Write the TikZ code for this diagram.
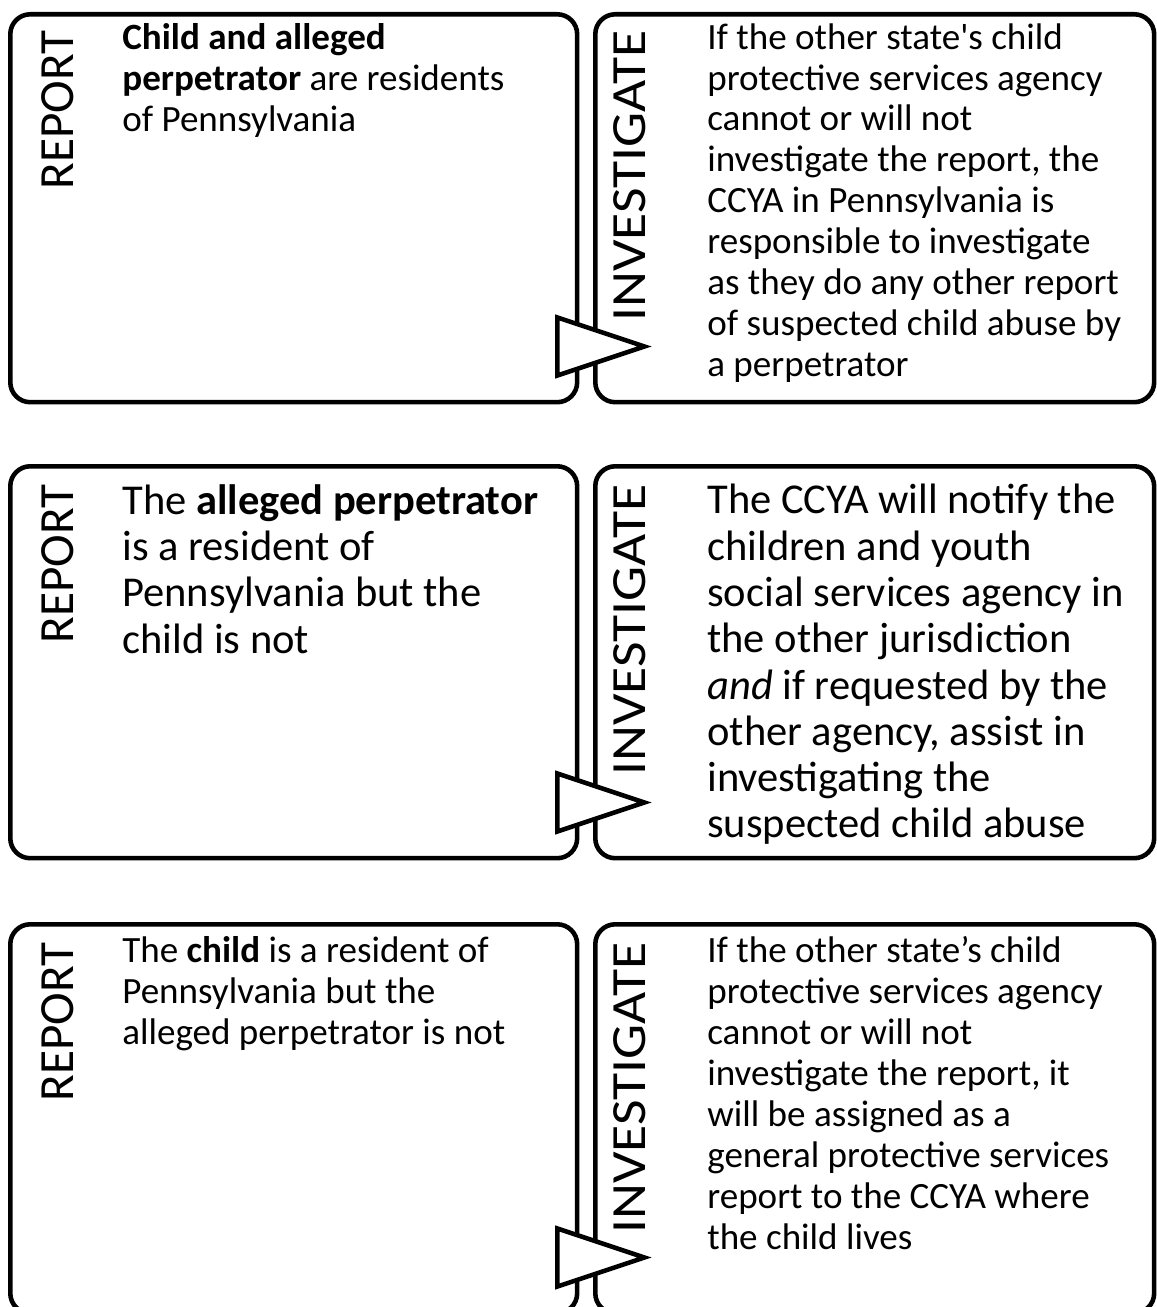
\documentclass[tikz,border=0pt]{standalone}
\usepackage{fontspec}
\setmainfont{Carlito}
\usetikzlibrary{calc}

\tikzset{
  card/.style={draw, line width=2.6pt, rounded corners=0.4cm, inner sep=0pt,
    anchor=north west, minimum width=#1},
  pointer/.style={draw, fill=white, line width=2.6pt, line join=miter},
  tag/.style={rotate=90, anchor=base east, inner sep=0pt,
    font=\fontsize{28pt}{30pt}\selectfont},
  longtag/.style={tag, xscale=1.13},
  body/.style={anchor=north west, inner sep=0pt, align=left,
    font=\fontsize{21.1pt}{23.3pt}\selectfont},
  bigbody/.style={body, font=\fontsize{24.2pt}{26.35pt}\selectfont}
}

\begin{document}
\begin{tikzpicture}[x=0.02cm,y=-0.02cm]
\useasboundingbox (0,0) rectangle (1156,1307);

% first row
\node[card=11.34cm, minimum height=7.76cm] (rep1) at (8,12) {};
\node[card=11.18cm, minimum height=7.76cm] (inv1) at (593,12) {};
\draw[pointer] ($(rep1.south east)+(-22,-87)$) -- ($(rep1.south east)+(-22,-29)$)
  -- ($(rep1.south east)+(65,-58)$) -- cycle;
\node[tag] (rtag1) at ($(rep1.north west)+(65,18)$) {REPORT};
\node[longtag] (itag1) at ($(inv1.north west)+(52,18)$) {INVESTIGATE};
\node[body] (rtxt1) at ($(rep1.north west)+(114,11)$) {\textbf{Child and alleged}\\
  \textbf{perpetrator} are residents\\of Pennsylvania};
\node[body] (itxt1) at ($(inv1.north west)+(114,11)$) {If the other state\textquotesingle s child\\
  protective services agency\\cannot or will not\\investigate the report, the\\
  CCYA in Pennsylvania is\\responsible to investigate\\as they do any other report\\
  of suspected child abuse by\\a perpetrator};

% second row
\node[card=11.34cm, minimum height=7.84cm] (rep2) at (8,464) {};
\node[card=11.18cm, minimum height=7.84cm] (inv2) at (593,464) {};
\draw[pointer] ($(rep2.south east)+(-22,-87)$) -- ($(rep2.south east)+(-22,-29)$)
  -- ($(rep2.south east)+(65,-58)$) -- cycle;
\node[tag] (rtag2) at ($(rep2.north west)+(65,20)$) {REPORT};
\node[longtag] (itag2) at ($(inv2.north west)+(52,20)$) {INVESTIGATE};
\node[bigbody] (rtxt2) at ($(rep2.north west)+(114,20)$) {The \textbf{alleged perpetrator}\\
  is a resident of\\Pennsylvania but the\\child is not};
\node[bigbody] (itxt2) at ($(inv2.north west)+(114,20)$) {The CCYA will notify the\\
  children and youth\\social services agency in\\the other jurisdiction\\
  \textit{and} if requested by the\\other agency, assist in\\investigating the\\
  suspected child abuse};

% third row
\node[card=11.34cm, minimum height=7.78cm] (rep3) at (8,922) {};
\node[card=11.18cm, minimum height=7.78cm] (inv3) at (593,922) {};
\draw[pointer] ($(rep3.south east)+(-22,-87)$) -- ($(rep3.south east)+(-22,-29)$)
  -- ($(rep3.south east)+(65,-58)$) -- cycle;
\node[tag] (rtag3) at ($(rep3.north west)+(65,20)$) {REPORT};
\node[longtag] (itag3) at ($(inv3.north west)+(52,20)$) {INVESTIGATE};
\node[body] (rtxt3) at ($(rep3.north west)+(114,14)$) {The \textbf{child} is a resident of\\
  Pennsylvania but the\\alleged perpetrator is not};
\node[body] (itxt3) at ($(inv3.north west)+(114,14)$) {If the other state’s child\\
  protective services agency\\cannot or will not\\investigate the report, it\\
  will be assigned as a\\general protective services\\report to the CCYA where\\
  the child lives};
\end{tikzpicture}
\end{document}
